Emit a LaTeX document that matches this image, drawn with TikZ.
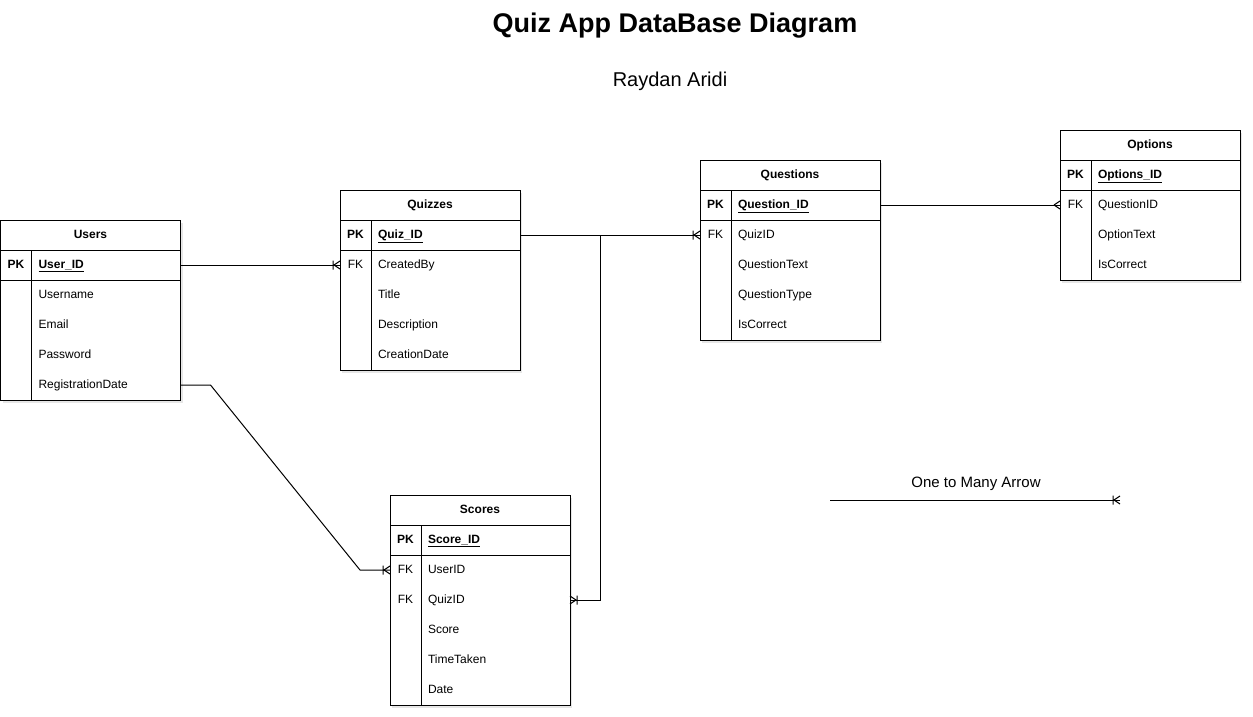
\documentclass[tikz,border=0pt]{standalone}
\usepackage{fontspec}
\setmainfont{Liberation Sans}
\usetikzlibrary{
    positioning, % nós relativos
    backgrounds,
    shadows,
    decorations.markings
}

\begin{document}
\begin{tikzpicture}[x=1pt, y=1pt]

    % --- Definição de Estilos ---
    \tikzset{
        % Cabeçalho das tabelas
        tbl_head/.style={
            minimum width=180pt,
            minimum height=30pt,
            inner sep=0pt,
            outer sep=0pt,
            text height=9pt,
            text depth=3pt,
            font=\fontsize{12}{14}\selectfont\bfseries
        },
        % Coluna das chaves (PK / FK)
        key_cell/.style={
            minimum width=31pt,
            minimum height=30pt,
            inner sep=0pt,
            outer sep=0pt,
            text height=9pt,
            text depth=3pt,
            font=\fontsize{12}{14}\selectfont
        },
        pk_cell/.style={key_cell, font=\fontsize{12}{14}\selectfont\bfseries},
        % Coluna dos campos
        field_cell/.style={
            minimum height=30pt,
            text width=135pt,
            align=left,
            inner xsep=7pt,
            inner ysep=0pt,
            outer sep=0pt,
            text height=9pt,
            text depth=3pt,
            font=\fontsize{12}{14}\selectfont
        },
        pk_field/.style={field_cell, font=\fontsize{12}{14}\selectfont\bfseries},
        % Bordas e fundo das tabelas
        tbl_line/.style={draw=black, line width=1pt},
        tbl_fill/.style={
            fill=white,
            drop shadow={shadow xshift=2pt, shadow yshift=-3pt, opacity=0.2}
        },
        % Relacionamentos
        rel_line/.style={draw=black, line width=1pt},
        one_many/.style={
            rel_line,
            postaction={decorate},
            decoration={markings, mark=at position 1 with {
                \draw[rel_line] (-6pt,0) -- (0,4pt) (-6pt,0) -- (0,-4pt)
                                (-7pt,4.5pt) -- (-7pt,-4.5pt);}}
        },
        many_only/.style={
            rel_line,
            postaction={decorate},
            decoration={markings, mark=at position 1 with {
                \draw[rel_line] (-6pt,0) -- (0,4pt) (-6pt,0) -- (0,-4pt);}}
        }
    }

    \useasboundingbox (0,0) rectangle (1253,-717);

    % --- Título ---
    \node[font=\fontsize{27}{32}\selectfont\bfseries, anchor=base] (title) at (675,-33) {Quiz App DataBase Diagram};
    \node[font=\fontsize{20}{24}\selectfont, anchor=base] (author) at (670,-87) {Raydan Aridi};

    % --- Tabela Users ---
    \node[tbl_head] (users) at (90.5,-235) {Users};
    \node[pk_cell, anchor=north west] (users_pk) at (users.south west) {PK};
    \node[pk_field, right=0pt of users_pk] (users_id) {\underline{User\_ID}};
    \node[field_cell, below=0pt of users_id] (users_name) {Username};
    \node[field_cell, below=0pt of users_name] (users_email) {Email};
    \node[field_cell, below=0pt of users_email] (users_pass) {Password};
    \node[field_cell, below=0pt of users_pass] (users_regdate) {RegistrationDate};

    % --- Tabela Quizzes ---
    \node[tbl_head] (quiz) at (430,-205) {Quizzes};
    \node[pk_cell, anchor=north west] (quiz_pk) at (quiz.south west) {PK};
    \node[pk_field, right=0pt of quiz_pk] (quiz_id) {\underline{Quiz\_ID}};
    \node[field_cell, below=0pt of quiz_id] (quiz_created) {CreatedBy};
    \node[field_cell, below=0pt of quiz_created] (quiz_title) {Title};
    \node[field_cell, below=0pt of quiz_title] (quiz_desc) {Description};
    \node[field_cell, below=0pt of quiz_desc] (quiz_date) {CreationDate};
    \node[key_cell, left=0pt of quiz_created] (quiz_fk) {FK};

    % --- Tabela Questions ---
    \node[tbl_head] (ques) at (790,-175) {Questions};
    \node[pk_cell, anchor=north west] (ques_pk) at (ques.south west) {PK};
    \node[pk_field, right=0pt of ques_pk] (ques_id) {\underline{Question\_ID}};
    \node[field_cell, below=0pt of ques_id] (ques_quiz) {QuizID};
    \node[field_cell, below=0pt of ques_quiz] (ques_text) {QuestionText};
    \node[field_cell, below=0pt of ques_text] (ques_type) {QuestionType};
    \node[field_cell, below=0pt of ques_type] (ques_correct) {IsCorrect};
    \node[key_cell, left=0pt of ques_quiz] (ques_fk) {FK};

    % --- Tabela Options ---
    \node[tbl_head] (opt) at (1150,-145) {Options};
    \node[pk_cell, anchor=north west] (opt_pk) at (opt.south west) {PK};
    \node[pk_field, right=0pt of opt_pk] (opt_id) {\underline{Options\_ID}};
    \node[field_cell, below=0pt of opt_id] (opt_ques) {QuestionID};
    \node[field_cell, below=0pt of opt_ques] (opt_text) {OptionText};
    \node[field_cell, below=0pt of opt_text] (opt_correct) {IsCorrect};
    \node[key_cell, left=0pt of opt_ques] (opt_fk) {FK};

    % --- Tabela Scores ---
    \node[tbl_head] (score) at (480,-510) {Scores};
    \node[pk_cell, anchor=north west] (score_pk) at (score.south west) {PK};
    \node[pk_field, right=0pt of score_pk] (score_id) {\underline{Score\_ID}};
    \node[field_cell, below=0pt of score_id] (score_user) {UserID};
    \node[field_cell, below=0pt of score_user] (score_quiz) {QuizID};
    \node[field_cell, below=0pt of score_quiz] (score_value) {Score};
    \node[field_cell, below=0pt of score_value] (score_time) {TimeTaken};
    \node[field_cell, below=0pt of score_time] (score_date) {Date};
    \node[key_cell, left=0pt of score_user] (score_fk1) {FK};
    \node[key_cell, left=0pt of score_quiz] (score_fk2) {FK};

    % --- Fundo e bordas das tabelas ---
    \begin{scope}[on background layer]
        \fill[tbl_fill] (users.north west) rectangle (users_regdate.south east);
        \fill[tbl_fill] (quiz.north west) rectangle (quiz_date.south east);
        \fill[tbl_fill] (ques.north west) rectangle (ques_correct.south east);
        \fill[tbl_fill] (opt.north west) rectangle (opt_correct.south east);
        \fill[tbl_fill] (score.north west) rectangle (score_date.south east);
    \end{scope}

    \draw[tbl_line] (users.north west) rectangle (users_regdate.south east);
    \draw[tbl_line] (users.south west) -- (users.south east) (users_pk.south west) -- (users_id.south east)
                    (users_pk.north east) -- (users_pk.east |- users_regdate.south);
    \draw[tbl_line] (quiz.north west) rectangle (quiz_date.south east);
    \draw[tbl_line] (quiz.south west) -- (quiz.south east) (quiz_pk.south west) -- (quiz_id.south east)
                    (quiz_pk.north east) -- (quiz_pk.east |- quiz_date.south);
    \draw[tbl_line] (ques.north west) rectangle (ques_correct.south east);
    \draw[tbl_line] (ques.south west) -- (ques.south east) (ques_pk.south west) -- (ques_id.south east)
                    (ques_pk.north east) -- (ques_pk.east |- ques_correct.south);
    \draw[tbl_line] (opt.north west) rectangle (opt_correct.south east);
    \draw[tbl_line] (opt.south west) -- (opt.south east) (opt_pk.south west) -- (opt_id.south east)
                    (opt_pk.north east) -- (opt_pk.east |- opt_correct.south);
    \draw[tbl_line] (score.north west) rectangle (score_date.south east);
    \draw[tbl_line] (score.south west) -- (score.south east) (score_pk.south west) -- (score_id.south east)
                    (score_pk.north east) -- (score_pk.east |- score_date.south);

    % --- Relacionamentos ---
    \draw[one_many] (users_id.east) -- (quiz_fk.west);
    \draw[one_many] (quiz_id.east) -- (ques_fk.west);
    \draw[one_many] (quiz_id.east) -- ++(80pt,0) |- (score_quiz.east);
    \draw[one_many] (users_regdate.east) -- ++(30pt,0) -- ([xshift=-30pt]score_fk1.west) -- (score_fk1.west);
    \draw[many_only] (ques_id.east) -- (opt_fk.west);

    % --- Legenda ---
    \coordinate (legend_start) at (830,-500);
    \coordinate (legend_end) at (1120,-500);
    \draw[one_many] (legend_start) -- (legend_end);
    \node[font=\fontsize{15}{18}\selectfont, anchor=base] (legend_text) at (976,-487) {One to Many Arrow};

\end{tikzpicture}
\end{document}
